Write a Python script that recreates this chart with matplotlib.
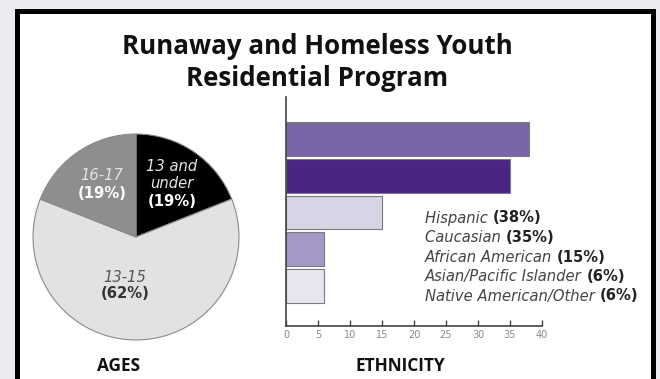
import matplotlib.pyplot as plt
from matplotlib.patches import Rectangle

W, H = 660, 379

# ages (pie)
age_labels = ["13 and\nunder", "13-15", "16-17"]
age_values = [19, 62, 19]
age_colors = ["#000000", "#e2e2e2", "#8e8e8e"]

# ethnicity (bars, top to bottom)
eth_labels = ["Hispanic", "Caucasian", "African American",
              "Asian/Pacific Islander", "Native American/Other"]
eth_values = [38, 35, 15, 6, 6]
eth_colors = ["#7965a6", "#4a2684", "#d9d3e6", "#a498c6", "#e9e5f0"]
eth_ticks = [0, 5, 10, 15, 20, 25, 30, 35, 40]


def fx(x):
    return x / W


def fy(y):
    return 1 - y / H


fig = plt.figure(figsize=(6.6, 3.79), dpi=100)
fig.patch.set_facecolor("#ebebef")

# white panel with heavy black frame
panel = Rectangle((fx(16.5), fy(395)), fx(652.5) - fx(16.5), fy(10.5) - fy(395),
                  transform=fig.transFigure, facecolor="white",
                  edgecolor="black", linewidth=3.6, zorder=-5)
fig.patches.append(panel)

title_font = "Open Sans"
fig.text(fx(317), fy(46), "Runaway and Homeless Youth", ha="center", va="center",
         fontsize=18.6, fontweight="bold", family=title_font, color="#111111")
fig.text(fx(317), fy(79), "Residential Program", ha="center", va="center",
         fontsize=18.6, fontweight="bold", family=title_font, color="#111111")

# pie
cx, cy, r = 136, 237, 104
ax_pie = fig.add_axes([fx(cx - r), fy(cy + r), fx(2 * r), (2 * r) / H])
ax_pie.pie(age_values, colors=age_colors, startangle=90, counterclock=False,
           wedgeprops=dict(edgecolor="#8a8a8a", linewidth=0.8))
ax_pie.set_xlim(-1.01, 1.01)
ax_pie.set_ylim(-1.01, 1.01)
ax_pie.axis("off")

lab_size = 10.6
fig.text(fx(172), fy(175), age_labels[0], ha="center", va="center", style="italic",
         fontsize=lab_size, color="#e6e6e6", linespacing=1.1)
fig.text(fx(172), fy(201), "(%d%%)" % age_values[0], ha="center", va="center",
         fontweight="bold", fontsize=lab_size, color="white")
fig.text(fx(102), fy(176), age_labels[2], ha="center", va="center", style="italic",
         fontsize=lab_size, color="#e4e4e4")
fig.text(fx(102), fy(193), "(%d%%)" % age_values[2], ha="center", va="center",
         fontweight="bold", fontsize=lab_size, color="white")
fig.text(fx(125), fy(277), age_labels[1], ha="center", va="center", style="italic",
         fontsize=lab_size, color="#555555")
fig.text(fx(125), fy(294), "(%d%%)" % age_values[1], ha="center", va="center",
         fontweight="bold", fontsize=lab_size, color="#333333")

fig.text(fx(118), fy(366), "AGES", ha="center", va="center", fontsize=12.4,
         fontweight="bold", family=title_font, color="#111111")

# bars
bx0, bx1, by_top, by_bot = 286, 542, 97, 326
ax = fig.add_axes([fx(bx0), fy(by_bot), fx(bx1 - bx0), (by_bot - by_top) / H])
ypos = list(range(len(eth_values) - 1, -1, -1))
ax.barh(ypos, eth_values, height=0.92, color=eth_colors,
        edgecolor="#7a7a7a", linewidth=0.8)
ax.set_xlim(0, 40)
ax.set_ylim(-1.1, 5.15)
for s in ["top", "right"]:
    ax.spines[s].set_visible(False)
for s in ["left", "bottom"]:
    ax.spines[s].set_color("#444444")
    ax.spines[s].set_linewidth(1.2)
ax.set_yticks([])
ax.set_xticks(eth_ticks)
ax.tick_params(axis="x", direction="in", length=4, width=1, color="#444444",
               labelsize=7, labelcolor="#888888", pad=3)
ax.set_facecolor("none")

fig.text(fx(400), fy(366), "ETHNICITY", ha="center", va="center", fontsize=12.4,
         fontweight="bold", family=title_font, color="#111111")

# legend-style labels: italic name followed by bold percentage
fig.canvas.draw()
renderer = fig.canvas.get_renderer()
inv = fig.transFigure.inverted()
for i, (name, val) in enumerate(zip(eth_labels, eth_values)):
    y = 218 + i * 19.5
    t = fig.text(fx(425), fy(y), name + " ", ha="left", va="center", style="italic",
                 fontsize=lab_size, color="#444444")
    bb = t.get_window_extent(renderer)
    x_end = inv.transform((bb.x1, bb.y0))[0]
    fig.text(x_end, fy(y), "(%d%%)" % val, ha="left", va="center",
             fontweight="bold", fontsize=lab_size, color="#222222")

fig.savefig("out.png", dpi=100, facecolor=fig.get_facecolor())
